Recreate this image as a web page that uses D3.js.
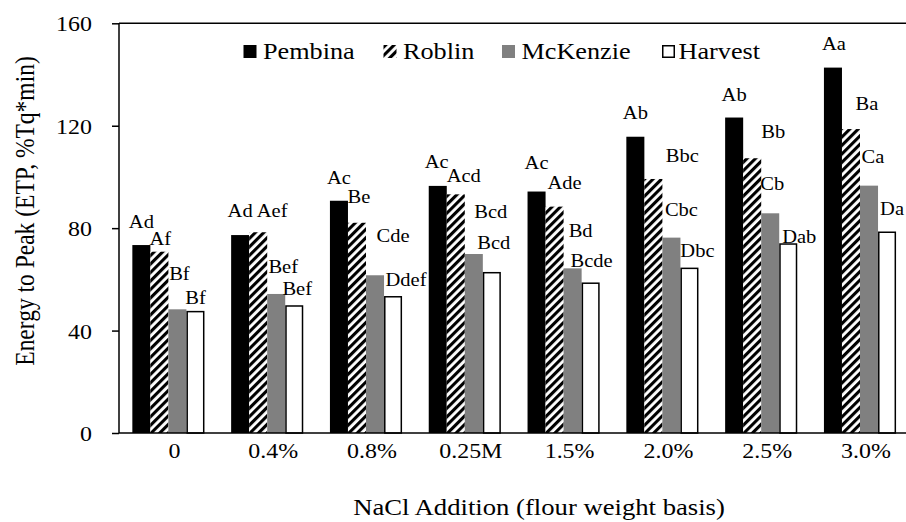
<!DOCTYPE html>
<html>
<head>
<meta charset="utf-8">
<script src="https://cdn.jsdelivr.net/npm/d3@7"></script>
<style>
  html, body { margin: 0; padding: 0; background: #fff; }
  svg { display: block; }
  text { font-family: "Liberation Serif", "Times New Roman", serif; fill: #000; }
</style>
</head>
<body>
<svg id="chart" width="906" height="522"></svg>
<script>
// ---------- data ----------
const categories = ["0", "0.4%", "0.8%", "0.25M", "1.5%", "2.0%", "2.5%", "3.0%"];
const seriesNames = ["Pembina", "Roblin", "McKenzie", "Harvest"];
const pembina  = [73.4, 77.3, 90.7, 96.5, 94.3, 115.7, 123.2, 142.7];
const roblin   = [70.8, 78.4, 82.1, 93.2, 88.4, 99.2, 107.3, 118.7];
const mckenzie = [48.3, 54.3, 61.6, 69.9, 64.3, 76.3, 85.8, 96.6];
const harvest  = [47.4, 49.6, 53.2, 62.6, 58.5, 64.3, 73.8, 78.4];
const pembinaLetters  = ["Ad", "Ad", "Ac", "Ac", "Ac", "Ab", "Ab", "Aa"];
const roblinLetters   = ["Af", "Aef", "Be", "Acd", "Ade", "Bbc", "Bb", "Ba"];
const mckenzieLetters = ["Bf", "Bef", "Cde", "Bcd", "Bd", "Cbc", "Cb", "Ca"];
const harvestLetters  = ["Bf", "Bef", "Ddef", "Bcd", "Bcde", "Dbc", "Dab", "Da"];
// level (in axis units) at which each letter label sits
const pembinaLabelAt  = [79.9, 84.2, 97.2, 103.4, 103.1, 122.5, 129.8, 149.6];
const roblinLabelAt   = [73.4, 84.2, 89.8, 98.1, 95.2, 106.0, 115.1, 126.1];
const mckenzieLabelAt = [59.8, 62.4, 74.7, 83.8, 76.4, 84.7, 94.9, 105.6];
const harvestLabelAt  = [50.4, 53.9, 57.4, 71.9, 64.9, 68.9, 74.3, 85.1];
const yTicks = [0, 40, 80, 120, 160];
const xTitle = "NaCl Addition (flour weight basis)";
const yTitle = "Energy to Peak (ETP, %Tq*min)";

// ---------- layout / style ----------
const labelNudge = [
  [0, 0, 0, -1, 0, 0, 0, 1],
  [1, 14, 2, 8, 10, 29, 21, 16],
  [2, 7, 18, 17, 8, 10, 2, 4],
  [0, 3, 13, 2, 1, 8, 11, 5]
];
const legendX = [243.5, 383.5, 502, 662];
const FONT_STRETCH = 1.14;

const values = [pembina, roblin, mckenzie, harvest];
const letters = [pembinaLetters, roblinLetters, mckenzieLetters, harvestLetters];
const labelAt = [pembinaLabelAt, roblinLabelAt, mckenzieLabelAt, harvestLabelAt];

const svg = d3.select("#chart");
const plotLeft = 119, plotTop = 23.3, plotBottom = 433, step = 98.8;
const plotRight = plotLeft + step * categories.length;

const defs = svg.append("defs");
const pat = defs.append("pattern")
  .attr("id", "hatch")
  .attr("patternUnits", "userSpaceOnUse")
  .attr("width", 6).attr("height", 6)
  .attr("patternTransform", "rotate(45)");
pat.append("rect").attr("width", 6).attr("height", 6).attr("fill", "#fff");
pat.append("rect").attr("width", 3.1).attr("height", 6).attr("fill", "#000");

const fills = ["#000", "url(#hatch)", "#808080", "#fff"];
const strokes = ["none", "none", "none", "#000"];

const x0 = d3.scaleBand().domain(categories).range([plotLeft, plotRight])
  .paddingInner(0.27).paddingOuter(0.135);
const x1 = d3.scaleBand().domain(seriesNames).range([0, x0.bandwidth()]).padding(0);
const y = d3.scaleLinear().domain([0, 160]).range([plotBottom, plotTop]);

// bars
const groups = svg.append("g").selectAll("g")
  .data(categories)
  .join("g")
  .attr("transform", d => `translate(${x0(d)},0)`);

groups.selectAll("rect")
  .data((c, i) => seriesNames.map((s, k) => ({ s, k, v: values[k][i] })))
  .join("rect")
  .attr("x", d => x1(d.s) + (d.k === 3 ? 0.75 : 0))
  .attr("width", d => x1.bandwidth() - (d.k === 3 ? 1.5 : 0))
  .attr("y", d => y(d.v))
  .attr("height", d => y(0) - y(d.v))
  .attr("fill", d => fills[d.k])
  .attr("stroke", d => strokes[d.k])
  .attr("stroke-width", 1.5);

// letter labels
groups.selectAll("text.lbl")
  .data((c, i) => seriesNames.map((s, k) => ({ s, k, i, t: letters[k][i], at: labelAt[k][i] })))
  .join("text")
  .attr("class", "lbl")
  .attr("text-anchor", "middle")
  .attr("font-size", 18)
  .attr("transform", d => `translate(${x1(d.s) + x1.bandwidth() / 2 + labelNudge[d.k][d.i]},${y(d.at)}) scale(${FONT_STRETCH},1)`)
  .text(d => d.t);

// y axis
const yAxis = d3.axisLeft(y).tickValues(yTicks).tickSize(7).tickPadding(0).tickFormat(d3.format("d"));
const ya = svg.append("g").attr("transform", `translate(${plotLeft},0)`).call(yAxis);
ya.select(".domain").remove();
ya.append("line").attr("x1", 0).attr("x2", 0).attr("y1", plotTop).attr("y2", plotBottom)
  .attr("stroke", "#000").attr("stroke-width", 1.5);
ya.selectAll(".tick line").attr("stroke", "#000").attr("stroke-width", 1.5);
ya.selectAll(".tick text")
  .attr("x", null).attr("dy", null)
  .attr("font-size", 21)
  .attr("font-family", null)
  .attr("text-anchor", "end")
  .attr("transform", `translate(-27,7.5) scale(${FONT_STRETCH},1)`);

// x axis
const xAxis = d3.axisBottom(x0).tickSize(0).tickPadding(0);
const xa = svg.append("g").attr("transform", `translate(0,${plotBottom})`).call(xAxis);
xa.select(".domain").remove();
xa.append("line").attr("x1", plotLeft).attr("x2", 906).attr("y1", 0).attr("y2", 0)
  .attr("stroke", "#000").attr("stroke-width", 1.5);
xa.selectAll(".tick text")
  .attr("y", null).attr("dy", null)
  .attr("font-size", 21)
  .attr("font-family", null)
  .attr("text-anchor", "middle")
  .attr("transform", `translate(6,25) scale(${FONT_STRETCH},1)`);

// top border
svg.append("line").attr("x1", plotLeft).attr("x2", 906).attr("y1", plotTop).attr("y2", plotTop)
  .attr("stroke", "#000").attr("stroke-width", 1.5);

// axis titles
svg.append("text")
  .attr("text-anchor", "middle")
  .attr("font-size", 23)
  .attr("transform", `translate(539,515) scale(1.16,1)`)
  .text(xTitle);
svg.append("text")
  .attr("text-anchor", "middle")
  .attr("font-size", 23.5)
  .attr("transform", `translate(34,211) rotate(-90) scale(1,1.14)`)
  .text(yTitle);

// legend
const leg = svg.append("g").selectAll("g")
  .data(seriesNames)
  .join("g")
  .attr("transform", (d, i) => `translate(${legendX[i]},45)`);
leg.append("rect")
  .attr("x", (d, i) => i === 3 ? 0.75 : 0)
  .attr("y", (d, i) => i === 3 ? 0.75 : 0)
  .attr("width", (d, i) => i === 3 ? 11.5 : 13)
  .attr("height", (d, i) => i === 3 ? 11.5 : 13)
  .attr("fill", (d, i) => fills[i])
  .attr("stroke", (d, i) => strokes[i])
  .attr("stroke-width", 1.5);
leg.append("text")
  .attr("font-size", 23)
  .attr("transform", (d, i) => `translate(${i === 3 ? 16.5 : 19.5},14) scale(${FONT_STRETCH},1)`)
  .text(d => d);
</script>
</body>
</html>
